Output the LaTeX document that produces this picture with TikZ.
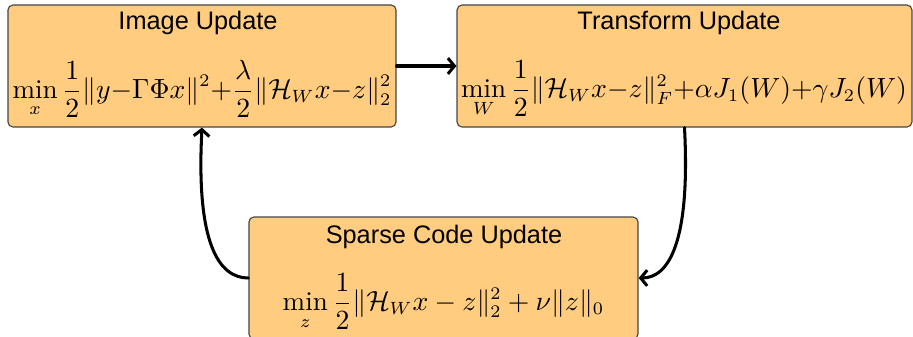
\documentclass[tikz,border=0pt]{standalone}
\usepackage{amsmath}
\usepackage{fontspec}
\setsansfont{Liberation Sans}
\usetikzlibrary{arrows.meta,calc}
\definecolor{boxfill}{RGB}{255,204,128}
\definecolor{boxline}{RGB}{70,70,70}
\tikzset{
  stepbox/.style={draw=boxline, fill=boxfill, line width=0.45pt, rounded corners=2pt,
    minimum height=48.2pt, inner sep=0pt},
  boxtitle/.style={font=\sffamily, inner sep=0pt},
  boxmath/.style={inner sep=0pt, font=\fontsize{10.7pt}{13pt}\selectfont},
  flow/.style={line width=1.2pt, line cap=round, -{Straight Barb[length=2.6pt,width=6.2pt]}}
}
\begin{document}
\begin{tikzpicture}[x=0.395pt,y=-0.395pt]
\useasboundingbox (0,0) rectangle (913,336);
% boxes
\node[stepbox, minimum width=153.3pt] (img) at (202,66) {};
\node[stepbox, minimum width=179.7pt] (tr) at (684.5,66) {};
\node[stepbox, minimum width=153.7pt] (sp) at (443.5,278) {};
% titles
\node[boxtitle] (imgt) at (198,23) {Image Update};
\node[boxtitle] (trt) at (679,23) {Transform Update};
\node[boxtitle] (spt) at (444,237) {Sparse Code Update};
% formulas
\node[boxmath] (imgm) at (202,89) {$\displaystyle \min_x \frac{1}{2}\|y{-}\Gamma\Phi x\|^2{+}\frac{\lambda}{2}\|\mathcal{H}_W x{-}z\|_2^2$};
\node[boxmath] (trm) at (684,89) {$\displaystyle \min_W \frac{1}{2}\|\mathcal{H}_W x{-}z\|_F^2{+}\alpha J_1(W){+}\gamma J_2(W)$};
\node[boxmath] (spm) at (443.5,302) {$\displaystyle \min_z \frac{1}{2}\|\mathcal{H}_W x - z\|_2^2 + \nu\|z\|_0$};
% connectors
\draw[flow] (img.east) -- (tr.west);
\draw[flow] (tr.south) .. controls ($(tr.south)+(6,115)$) and ($(sp.east)+(30,0)$) .. (sp.east);
\draw[flow] (sp.west) .. controls ($(sp.west)+(-30,0)$) and ($(img.south)+(-6,115)$) .. (img.south);
\end{tikzpicture}
\end{document}
